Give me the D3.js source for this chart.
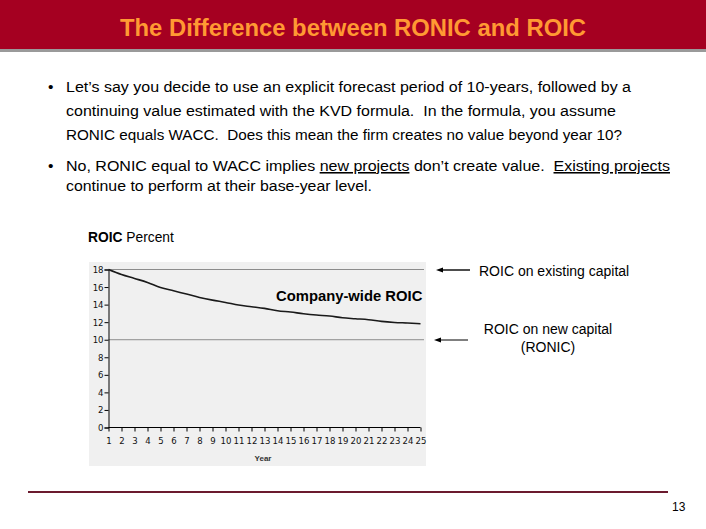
<!DOCTYPE html>
<html>
<head>
<meta charset="utf-8">
<script src="https://cdn.jsdelivr.net/npm/d3@7/dist/d3.min.js"></script>
<style>
  body { margin: 0; background: #fff; }
  svg { display: block; font-family: "Liberation Sans", Arial, sans-serif; }
  text { white-space: pre; }
</style>
</head>
<body>
<script>
// chart data
var years = d3.range(1, 26)
var companyRoic = [18, 17.43, 16.98, 16.52, 15.95, 15.57, 15.2, 14.82, 14.51, 14.25,
    13.95, 13.76, 13.57, 13.3, 13.15, 12.96, 12.81, 12.7, 12.5, 12.39,
    12.28, 12.09, 11.97, 11.9, 11.82]
var roicExisting = 18
var ronic = 10
var yTicks = [0, 2, 4, 6, 8, 10, 12, 14, 16, 18]

var W = 706, H = 529
var svg = d3.select('body').append('svg').attr('width', W).attr('height', H)

// title bar
svg.append('rect').attr('x', 0).attr('y', 48).attr('width', W).attr('height', 4).attr('fill', '#9a9a9a')
svg.append('rect').attr('x', 0).attr('y', 0).attr('width', W).attr('height', 49).attr('fill', '#a50021')
svg.append('text').attr('x', 353).attr('y', 36).attr('text-anchor', 'middle')
    .attr('fill', '#ff9933').attr('font-size', 23).attr('font-weight', 'bold')
    .attr('textLength', 466).attr('lengthAdjust', 'spacingAndGlyphs')
    .text('The Difference between RONIC and ROIC')

// bullets
var body = svg.append('g').attr('font-size', 15.5).attr('fill', '#000')
function line(y, parts, len) {
    var t = body.append('text').attr('x', 66).attr('y', y)
    if (len) t.attr('textLength', len).attr('lengthAdjust', 'spacingAndGlyphs')
    parts.forEach(function (p) {
        var s = t.append('tspan').text(p[0])
        if (p[1]) s.attr('text-decoration', 'underline')
    })
}
body.append('text').attr('x', 48).attr('y', 92).text('•')
line(92, [['Let’s say you decide to use an explicit forecast period of 10-years, followed by a']], 565)
line(116, [['continuing value estimated with the KVD formula.  In the formula, you assume']], 550)
line(140, [['RONIC equals WACC.  Does this mean the firm creates no value beyond year 10?']], 556)
body.append('text').attr('x', 48).attr('y', 171).text('•')
line(171, [['No, RONIC equal to WACC implies '], ['new projects', true], [' don’t create value.  '], ['Existing projects', true]], 604)
line(191, [['continue to perform at their base-year level.']], 306)

// axis title
var at = svg.append('text').attr('x', 88).attr('y', 242).attr('font-size', 13.8)
at.append('tspan').attr('font-weight', 'bold').text('ROIC')
at.append('tspan').text(' Percent')

// chart panel
svg.append('rect').attr('x', 89).attr('y', 262).attr('width', 337).attr('height', 204).attr('fill', '#f0f0f0')

var x = d3.scaleLinear().domain([1, 25]).range([108.5, 420.5])
var y = d3.scaleLinear().domain([0, 18]).range([427.5, 269.5])

var g = svg.append('g')
// reference lines
;[roicExisting, ronic].forEach(function (v) {
    g.append('line').attr('x1', x(1)).attr('x2', 424).attr('y1', y(v)).attr('y2', y(v))
        .attr('stroke', '#8c8c8c').attr('stroke-width', 1)
})

var yAxis = g.append('g').attr('transform', 'translate(' + x(1) + ',0)')
    .call(d3.axisLeft(y).tickValues(yTicks).tickSize(4).tickPadding(1))
var xAxis = g.append('g').attr('transform', 'translate(0,' + y(0) + ')')
    .call(d3.axisBottom(x).tickValues(years).tickSize(4).tickPadding(6))
;[yAxis, xAxis].forEach(function (a) {
    a.select('.domain').attr('stroke', '#000')
    a.selectAll('.tick line').attr('stroke', '#000')
    a.selectAll('text').attr('font-size', 9.5).attr('fill', '#111').attr('font-family', 'DejaVu Sans Condensed, DejaVu Sans, sans-serif')
})
xAxis.select('.domain').attr('d', 'M' + x(1) + ',0H' + x(25))

g.append('text').attr('x', 263).attr('y', 461).attr('text-anchor', 'middle')
    .attr('font-size', 8).attr('font-weight', 'bold').attr('fill', '#333').text('Year')

g.append('path').datum(companyRoic)
    .attr('fill', 'none').attr('stroke', '#1a1a1a').attr('stroke-width', 1.6)
    .attr('d', d3.line().x(function (d, i) { return x(years[i]) }).y(function (d) { return y(d) }).curve(d3.curveMonotoneX))

svg.append('text').attr('x', 276).attr('y', 301).attr('font-size', 14.8).attr('font-weight', 'bold')
    .text('Company-wide ROIC')

// annotations
function arrow(x1, x2, yy, w) {
    svg.append('line').attr('x1', x1).attr('x2', x2 + 4).attr('y1', yy).attr('y2', yy)
        .attr('stroke', '#000').attr('stroke-width', w)
    svg.append('path').attr('d', 'M' + x2 + ',' + yy + 'l7,-2.5v5z').attr('fill', '#000')
}
arrow(470, 436, y(roicExisting) + 0.5, 1.4)
svg.append('text').attr('x', 479).attr('y', 276).attr('font-size', 14).text('ROIC on existing capital')

arrow(468, 434, 340, 1)
svg.append('text').attr('x', 548).attr('y', 334).attr('font-size', 14).attr('text-anchor', 'middle').text('ROIC on new capital')
svg.append('text').attr('x', 548).attr('y', 352).attr('font-size', 14).attr('text-anchor', 'middle').text('(RONIC)')

// footer
svg.append('line').attr('x1', 28).attr('x2', 668).attr('y1', 492).attr('y2', 492)
    .attr('stroke', '#6b1a2e').attr('stroke-width', 2)
svg.append('text').attr('x', 672).attr('y', 511).attr('font-size', 12).text('13')
</script>
</body>
</html>
